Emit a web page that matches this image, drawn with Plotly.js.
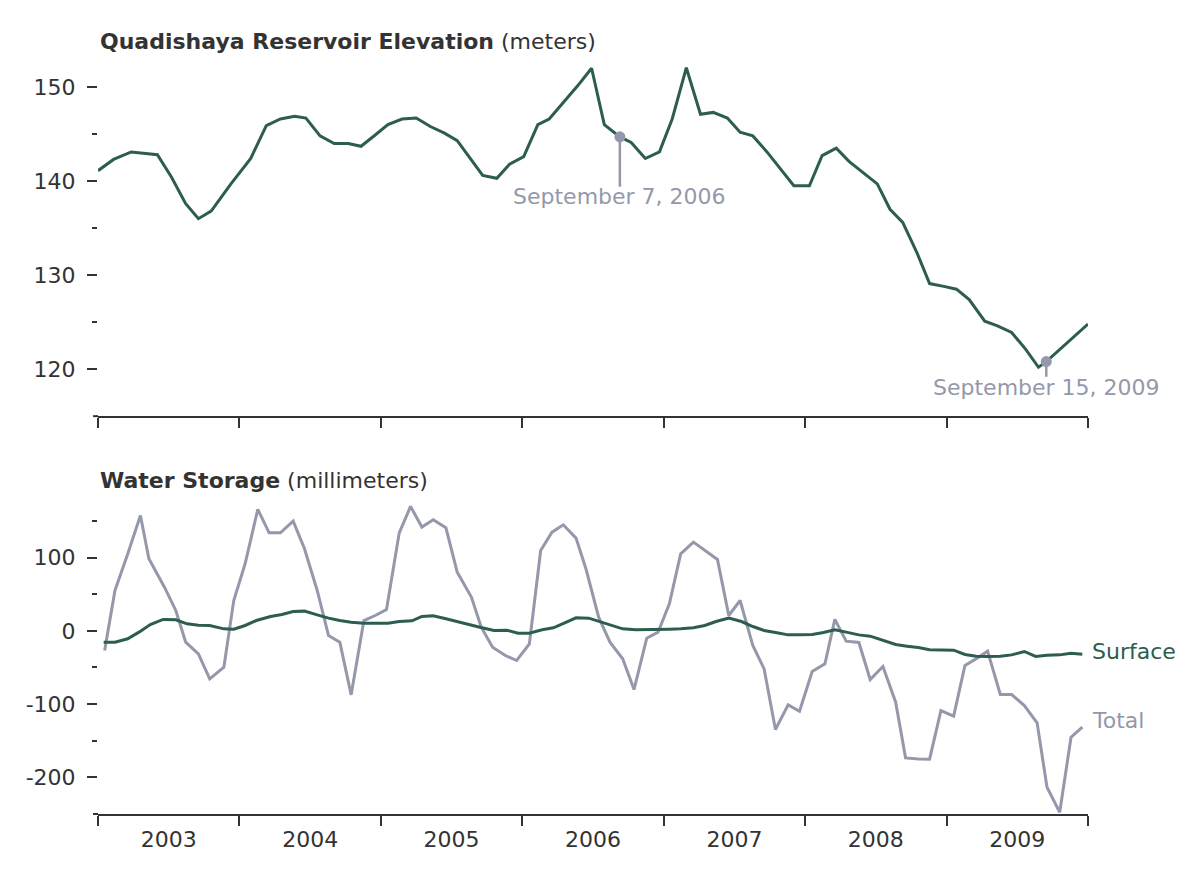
<!DOCTYPE html>
<html>
<head>
<meta charset="utf-8">
<script src="https://cdn.plot.ly/plotly-3.0.1.min.js"></script>
<style>html,body{margin:0;padding:0;background:#fff;}#chart{width:1200px;height:880px;}</style>
</head>
<body>
<div id="chart"></div>
<script>
// ---- Reservoir elevation (meters), time in decimal years ----
const elevTime = [2003.00,2003.11,2003.235,2003.42,2003.52,2003.62,2003.71,2003.80,2003.94,2004.08,
  2004.19,2004.29,2004.39,2004.47,2004.57,2004.67,2004.77,2004.86,2004.96,2005.05,
  2005.15,2005.25,2005.35,2005.45,2005.54,2005.62,2005.72,2005.82,2005.91,2006.01,
  2006.11,2006.19,2006.39,2006.49,2006.58,2006.69,2006.77,2006.87,2006.97,2007.06,
  2007.16,2007.26,2007.35,2007.45,2007.54,2007.63,2007.73,2007.92,2008.03,2008.12,
  2008.22,2008.31,2008.41,2008.51,2008.60,2008.69,2008.79,2008.88,2008.98,2009.07,
  2009.16,2009.27,2009.36,2009.46,2009.56,2009.65,2009.705,2010.0];
const elevValue = [141.1,142.3,143.1,142.8,140.4,137.6,136.0,136.8,139.7,142.4,
  145.9,146.6,146.9,146.7,144.8,144.0,144.0,143.7,144.9,146.0,
  146.6,146.7,145.8,145.1,144.3,142.7,140.6,140.3,141.8,142.6,
  146.0,146.6,150.1,152.0,146.0,144.7,144.1,142.4,143.1,146.6,
  152.05,147.1,147.3,146.7,145.2,144.8,143.1,139.5,139.5,142.7,
  143.5,142.1,140.9,139.7,137.0,135.6,132.4,129.1,128.8,128.5,
  127.4,125.1,124.6,123.9,122.1,120.2,120.8,124.8];

// highlighted dates
const markTime = [2006.69, 2009.705];
const markValue = [144.7, 120.8];
const markLabel = ["September 7, 2006", "September 15, 2009"];

// ---- Water storage (millimeters) ----
const totalTime = [2003.047,2003.12,2003.21,2003.30,2003.36,2003.47,2003.55,2003.62,2003.71,2003.79,
  2003.89,2003.96,2004.04,2004.13,2004.21,2004.29,2004.38,2004.46,2004.55,2004.63,
  2004.71,2004.79,2004.88,2004.96,2005.04,2005.13,2005.21,2005.29,2005.37,2005.46,
  2005.54,2005.64,2005.71,2005.79,2005.88,2005.96,2006.05,2006.13,2006.21,2006.29,
  2006.38,2006.45,2006.54,2006.62,2006.71,2006.79,2006.88,2006.96,2007.04,2007.12,
  2007.21,2007.29,2007.38,2007.46,2007.54,2007.63,2007.71,2007.79,2007.88,2007.96,
  2008.05,2008.14,2008.21,2008.29,2008.38,2008.46,2008.55,2008.64,2008.71,2008.80,
  2008.88,2008.96,2009.05,2009.13,2009.21,2009.29,2009.38,2009.46,2009.55,2009.64,
  2009.71,2009.80,2009.88,2009.96];
const totalValue = [-26.9,55.1,105,157.5,98.3,59.6,27.8,-15.5,-31.4,-65.5,
  -49.6,41.4,91.5,165.7,133.8,133.8,149.7,112.0,55.1,-6.4,
  -15.5,-87.4,14.1,20.9,29.1,133.8,169.8,141.6,151.6,140.6,
  80.1,46.0,5.0,-22.3,-33.7,-40.5,-17.8,109.7,134.7,144.7,
  126.5,84.7,18.7,-15.5,-38.2,-80.1,-10.0,-1.8,36.9,105.1,
  121.1,109.7,97.4,20.9,41.4,-20.0,-51.9,-134.7,-101.0,-109.7,
  -55.5,-45.1,15.7,-14.1,-15.9,-66.5,-48.7,-97.4,-173.4,-174.8,
  -175.2,-108.8,-116.5,-47.3,-38.2,-27.8,-86.9,-86.9,-102.0,-125.6,
  -213.5,-247.6,-145.2,-131.5];

const surfTime = [2003.04,2003.12,2003.21,2003.29,2003.37,2003.46,2003.55,2003.63,2003.71,2003.79,
  2003.89,2003.96,2004.04,2004.12,2004.22,2004.30,2004.38,2004.46,2004.55,2004.63,
  2004.71,2004.79,2004.88,2004.97,2005.05,2005.13,2005.22,2005.29,2005.37,2005.46,
  2005.55,2005.63,2005.70,2005.80,2005.89,2005.97,2006.05,2006.14,2006.22,2006.30,
  2006.38,2006.47,2006.55,2006.63,2006.71,2006.80,2006.88,2006.96,2007.04,2007.12,
  2007.21,2007.29,2007.37,2007.46,2007.55,2007.63,2007.71,2007.80,2007.88,2007.96,
  2008.05,2008.13,2008.21,2008.29,2008.38,2008.46,2008.55,2008.64,2008.72,2008.80,
  2008.88,2008.96,2009.05,2009.13,2009.21,2009.29,2009.38,2009.46,2009.55,2009.63,
  2009.71,2009.80,2009.88,2009.96];
const surfValue = [-15.5,-15.5,-10.9,-1.8,8.6,15.5,15.0,9.6,7.7,7.3,
  2.7,2.3,7.3,14.1,19.6,22.3,26.4,26.9,21.8,17.3,
  14.1,11.8,10.5,10.5,10.5,12.7,13.7,19.6,20.5,16.4,
  11.8,8.2,5.0,0.5,0.9,-3.2,-3.2,1.4,4.1,10.9,
  17.8,17.3,12.7,8.2,2.7,1.4,1.4,1.4,2.3,2.7,
  4.1,7.3,12.7,17.3,12.7,5.9,0.5,-2.7,-5.5,-5.5,
  -5.0,-2.3,1.4,-1.8,-5.5,-7.3,-13.2,-18.7,-20.9,-22.8,
  -25.9,-25.9,-26.4,-32.3,-34.6,-35.0,-34.6,-32.8,-28.2,-35.0,
  -33.2,-32.8,-30.5,-31.9];

// ---- axis ticks ----
const years = [2003,2004,2005,2006,2007,2008,2009,2010];
const yearLabelPos = [2003.5,2004.5,2005.5,2006.5,2007.5,2008.5,2009.5];
const yearLabels = ["2003","2004","2005","2006","2007","2008","2009"];
const elevTicks = [120,130,140,150];
const elevTickText = ["120","130","140","150"];
const elevMinor = [125,135,145];
const storTicks = [-200,-100,0,100];
const storTickText = ["-200","-100","0","100"];
const storMinor = [-150,-50,50,150];

const GREEN = "#2c5d4e";
const GRAY = "#9498aa";
const DARK = "#333333";
const FONT = "DejaVu Sans, sans-serif";

const traces = [
  {x: elevTime, y: elevValue, xaxis: "x", yaxis: "y", mode: "lines",
   line: {color: GREEN, width: 3}, hoverinfo: "skip"},
  {x: markTime, y: markValue, xaxis: "x", yaxis: "y", mode: "markers",
   marker: {color: GRAY, size: 11}, hoverinfo: "skip"},
  {x: totalTime, y: totalValue, xaxis: "x2", yaxis: "y2", mode: "lines",
   line: {color: GRAY, width: 3}, hoverinfo: "skip"},
  {x: surfTime, y: surfValue, xaxis: "x2", yaxis: "y2", mode: "lines",
   line: {color: GREEN, width: 3}, hoverinfo: "skip"}
];

const yAxisCommon = {
  showgrid: false, zeroline: false, showline: false,
  ticks: "outside", ticklen: 10, tickwidth: 2, tickcolor: DARK,
  tickfont: {family: FONT, size: 22, color: DARK},
  ticklabelstandoff: 7, tickmode: "array", fixedrange: true
};

const layout = {
  width: 1200, height: 880,
  margin: {l: 98, r: 112, t: 40, b: 66},
  paper_bgcolor: "#fff", plot_bgcolor: "#fff",
  showlegend: false,
  font: {family: FONT, color: DARK},
  xaxis: {
    domain: [0, 1], anchor: "y", range: [2003, 2010],
    showgrid: false, zeroline: false,
    showline: true, linecolor: DARK, linewidth: 2,
    tickmode: "array", tickvals: years, showticklabels: false,
    ticks: "outside", ticklen: 10, tickwidth: 2, tickcolor: DARK
  },
  yaxis: Object.assign({}, yAxisCommon, {
    domain: [0.514, 1], anchor: "x", range: [115, 155],
    tickvals: elevTicks, ticktext: elevTickText,
    minor: {tickmode: "array", tickvals: elevMinor, ticks: "outside", ticklen: 5, tickwidth: 2, tickcolor: DARK}
  }),
  xaxis2: {
    domain: [0, 1], anchor: "y2", range: [2003, 2010],
    showgrid: false, zeroline: false,
    showline: true, linecolor: DARK, linewidth: 2,
    tickmode: "array", tickvals: yearLabelPos, ticktext: yearLabels,
    ticks: "", ticklabelstandoff: 5,
    tickfont: {family: FONT, size: 22, color: DARK},
    minor: {tickmode: "array", tickvals: years, ticks: "outside", ticklen: 10, tickwidth: 2, tickcolor: DARK}
  },
  yaxis2: Object.assign({}, yAxisCommon, {
    domain: [0, 0.4165], anchor: "x2", range: [-250, 190],
    tickvals: storTicks, ticktext: storTickText,
    minor: {tickmode: "array", tickvals: storMinor, ticks: "outside", ticklen: 5, tickwidth: 2, tickcolor: DARK}
  }),
  shapes: [
    {type: "line", xref: "paper", yref: "paper", x0: -0.005, x1: 0, y0: 0.514, y1: 0.514,
     line: {color: DARK, width: 2}},
    {type: "line", xref: "paper", yref: "paper", x0: -0.005, x1: 0, y0: 0, y1: 0,
     line: {color: DARK, width: 2}},
    {type: "line", xref: "x", yref: "y", x0: markTime[0], x1: markTime[0], y0: markValue[0], y1: 139.4,
     line: {color: GRAY, width: 2.5}},
    {type: "line", xref: "x", yref: "y", x0: markTime[1], x1: markTime[1], y0: markValue[1], y1: 119.2,
     line: {color: GRAY, width: 2.5}}
  ],
  annotations: [
    {xref: "paper", yref: "paper", x: 0, y: 0.9987, xanchor: "left", yanchor: "middle",
     text: "<b>Quadishaya Reservoir Elevation</b> (meters)", showarrow: false,
     font: {family: FONT, size: 22, color: DARK}},
    {xref: "paper", yref: "paper", x: 0, y: 0.4315, xanchor: "left", yanchor: "middle",
     text: "<b>Water Storage</b> (millimeters)", showarrow: false,
     font: {family: FONT, size: 22, color: DARK}},
    {xref: "x", yref: "y", x: markTime[0], y: 138.35, xanchor: "center", yanchor: "middle",
     text: markLabel[0], showarrow: false, font: {family: FONT, size: 22, color: GRAY}},
    {xref: "x", yref: "y", x: markTime[1], y: 118.0, xanchor: "center", yanchor: "middle",
     text: markLabel[1], showarrow: false, font: {family: FONT, size: 22, color: GRAY}},
    {xref: "x2", yref: "y2", x: 2010, y: -28.3, xanchor: "left", yanchor: "middle", xshift: 2,
     text: "Surface", showarrow: false, font: {family: FONT, size: 22, color: GREEN}},
    {xref: "x2", yref: "y2", x: 2010, y: -122.4, xanchor: "left", yanchor: "middle", xshift: 2,
     text: "Total", showarrow: false, font: {family: FONT, size: 22, color: GRAY}}
  ]
};

Plotly.newPlot("chart", traces, layout, {staticPlot: true, displayModeBar: false});
</script>
</body>
</html>
